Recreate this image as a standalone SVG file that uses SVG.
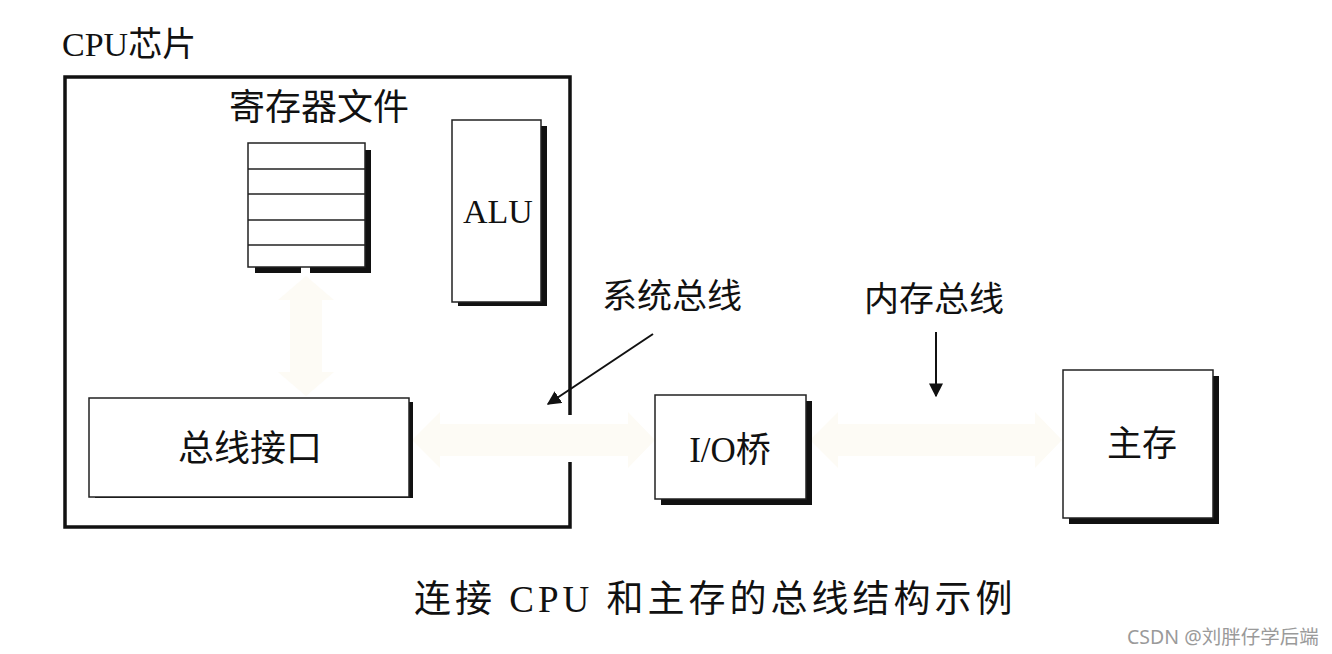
<svg xmlns="http://www.w3.org/2000/svg" width="1332" height="654" viewBox="0 0 1332 654">
<style>
text{font-family:"Liberation Serif","Noto Sans CJK SC",serif;fill:#111}
.box{fill:#fff;stroke:#222;stroke-width:1.5}
.shadow{fill:#111}
.bus{fill:#fdfbf5;stroke:none}
.ptr{stroke:#111;stroke-width:2;fill:none}
</style>
<defs>
<marker id="ah2" viewBox="0 0 10 10" refX="9" refY="5" markerWidth="14" markerHeight="14" orient="auto" markerUnits="userSpaceOnUse">
<path d="M0,0 L10,5 L0,10 z" fill="#111"/>
</marker>
</defs>
<rect width="1332" height="654" fill="#fff"/>

<g id="connectors">
<path class="bus" d="M412,440 L440,412 L440,424 L628,424 L628,412 L655,440 L628,468 L628,456 L440,456 L440,468 z"/>
<path class="bus" d="M810,440 L838,412 L838,424 L1035,424 L1035,412 L1062,440 L1035,468 L1035,456 L838,456 L838,468 z"/>
<path class="bus" d="M306,276 L334,300 L322,300 L322,372 L334,372 L306,396 L278,372 L290,372 L290,300 L278,300 z"/>
<line class="ptr" x1="653" y1="334" x2="548" y2="404" marker-end="url(#ah2)"/>
<line class="ptr" x1="936" y1="332" x2="936" y2="396" marker-end="url(#ah2)"/>
</g>

<g id="cpu-chip">
<text x="62" y="56" font-size="34">CPU芯片</text>
<path d="M570,415 L570,77 L65,77 L65,527 L570,527 L570,462" fill="none" stroke="#111" stroke-width="3.5"/>
</g>

<g id="register-file">
<text x="319" y="120" font-size="36" text-anchor="middle">寄存器文件</text>
<rect class="shadow" x="364" y="150" width="7" height="123"/>
<rect class="shadow" x="255" y="266" width="46" height="7"/>
<rect class="shadow" x="310" y="266" width="61" height="7"/>
<rect class="box" x="248" y="143" width="117" height="124"/>
<line x1="248" y1="169" x2="365" y2="169" stroke="#222" stroke-width="1.5"/>
<line x1="248" y1="194" x2="365" y2="194" stroke="#222" stroke-width="1.5"/>
<line x1="248" y1="220" x2="365" y2="220" stroke="#222" stroke-width="1.5"/>
<line x1="248" y1="245" x2="365" y2="245" stroke="#222" stroke-width="1.5"/>
</g>

<g id="alu">
<rect class="shadow" x="458" y="126" width="89" height="180"/>
<rect class="box" x="452" y="120" width="89" height="182"/>
<text x="498" y="223" font-size="34" text-anchor="middle">ALU</text>
</g>

<g id="bus-interface">
<rect class="shadow" x="95" y="402" width="318" height="96"/>
<rect class="box" x="89" y="398" width="320" height="99"/>
<text x="250" y="461" font-size="36" text-anchor="middle">总线接口</text>
</g>

<g id="io-bridge">
<rect class="shadow" x="661" y="401" width="151" height="104"/>
<rect class="box" x="655" y="395" width="151" height="104"/>
<text x="730" y="462" font-size="35" text-anchor="middle">I/O桥</text>
</g>

<g id="main-memory">
<rect class="shadow" x="1069" y="376" width="150" height="148"/>
<rect class="box" x="1063" y="370" width="150" height="148"/>
<text x="1142" y="456" font-size="35" text-anchor="middle">主存</text>
</g>

<g id="labels">
<text x="602" y="308" font-size="34" textLength="140" lengthAdjust="spacingAndGlyphs">系统总线</text>
<text x="864" y="311" font-size="34" textLength="140" lengthAdjust="spacingAndGlyphs">内存总线</text>
<text x="414" y="612" font-size="37" letter-spacing="4">连接 CPU 和主存的总线结构示例</text>
<text x="1127" y="644" font-size="19.5" style="fill:#9a9a9a;font-family:'Noto Sans','Noto Sans CJK SC',sans-serif">CSDN @刘胖仔学后端</text>
</g>
</svg>
